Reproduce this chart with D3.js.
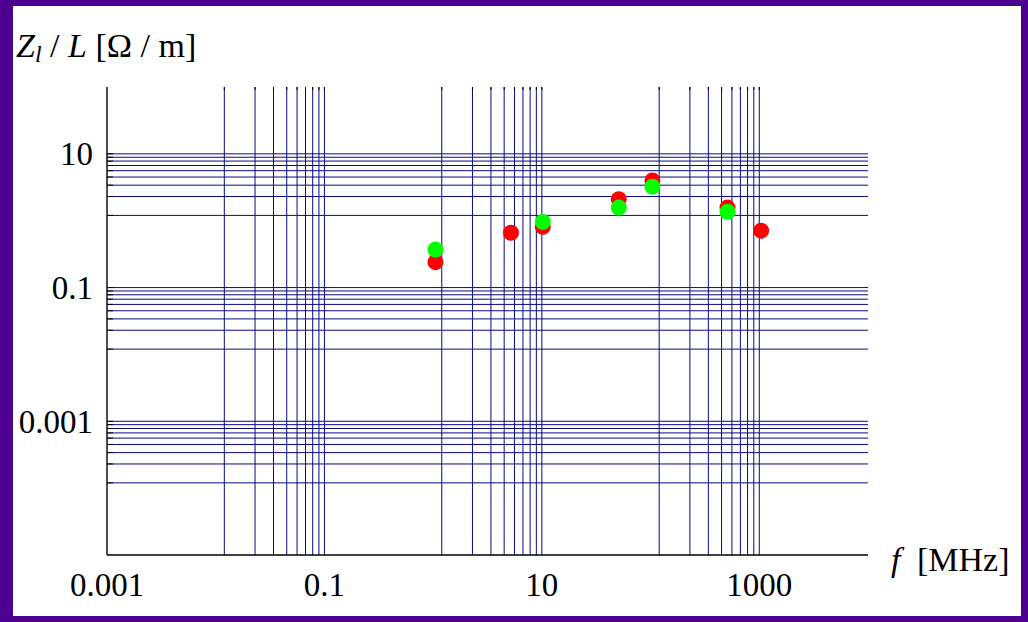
<!DOCTYPE html>
<html>
<head>
<meta charset="utf-8">
<script src="https://cdn.jsdelivr.net/npm/d3@7"></script>
<style>
  html, body { margin: 0; padding: 0; background: #4b0090; }
  svg { display: block; }
  text { font-family: "Liberation Serif", "DejaVu Serif", serif; fill: #000; }
</style>
</head>
<body>
<div id="chart"></div>
<script>
// frequencies in MHz and impedance per length in Ohm/m
const freqRed = [1.05, 5.2, 10.2, 51, 104, 510, 1040];
const zRed = [0.24, 0.66, 0.81, 2.1, 4.0, 1.57, 0.71];
const freqGreen = [1.05, 10.2, 51, 104, 510];
const zGreen = [0.37, 0.96, 1.57, 3.23, 1.36];

const xTicks = [0.001, 0.1, 10, 1000];
const yTicks = [10, 0.1, 0.001];
const xTickLabels = ["0.001", "0.1", "10", "1000"];
const yTickLabels = ["10", "0.1", "0.001"];

// grid lines sit at these fractions below each labelled value
const gridSteps = [0.12, 0.23, 0.34, 0.45, 0.56, 0.67, 0.78, 0.89, 1];
const xGridBases = [0.1, 10, 1000];
const yGridBases = [10, 0.1, 0.001];

const W = 1028, H = 622;
const plotL = 107, plotR = 868, plotT = 87, plotB = 555;

const x = d3.scaleLog().domain([0.001, 10000]).range([plotL, plotR]);
const y = d3.scaleLog().domain([1e-5, 100]).range([plotB, plotT]);

const xGrid = xGridBases.flatMap(b => gridSteps.map(s => b * s));
const yGrid = yGridBases.flatMap(b => gridSteps.map(s => b * s));

const svg = d3.select("#chart")
  .append("svg")
  .attr("width", W)
  .attr("height", H);

svg.append("rect")
  .attr("x", 0).attr("y", 0)
  .attr("width", W).attr("height", H)
  .attr("fill", "#4b0090");

svg.append("rect")
  .attr("x", 13).attr("y", 6)
  .attr("width", 1008).attr("height", 610)
  .attr("fill", "#fff");

// grid
svg.append("g")
  .selectAll("line")
  .data(xGrid)
  .join("line")
  .attr("x1", d => x(d)).attr("x2", d => x(d))
  .attr("y1", plotT).attr("y2", plotB)
  .attr("stroke", "#0a0a85")
  .attr("stroke-width", 1);

svg.append("g")
  .selectAll("line")
  .data(yGrid)
  .join("line")
  .attr("x1", plotL).attr("x2", plotR)
  .attr("y1", d => y(d)).attr("y2", d => y(d))
  .attr("stroke", "#0a0a85")
  .attr("stroke-width", 1);

// small black ticks on left axis and at top of vertical grid
svg.append("g")
  .selectAll("line")
  .data(yGrid)
  .join("line")
  .attr("x1", plotL).attr("x2", plotL + 6)
  .attr("y1", d => y(d)).attr("y2", d => y(d))
  .attr("stroke", "#000")
  .attr("stroke-width", 1);

svg.append("g")
  .selectAll("line")
  .data(xGrid)
  .join("line")
  .attr("x1", d => x(d)).attr("x2", d => x(d))
  .attr("y1", plotT).attr("y2", plotT + 3)
  .attr("stroke", "#000")
  .attr("stroke-width", 1);

// axes lines
svg.append("line")
  .attr("x1", plotL).attr("x2", plotL)
  .attr("y1", plotT).attr("y2", plotB)
  .attr("stroke", "#000").attr("stroke-width", 1.4);
svg.append("line")
  .attr("x1", plotL).attr("x2", plotR)
  .attr("y1", plotB).attr("y2", plotB)
  .attr("stroke", "#000").attr("stroke-width", 1.4);

// tick labels
svg.append("g")
  .selectAll("text")
  .data(xTicks)
  .join("text")
  .attr("x", d => x(d))
  .attr("y", 596)
  .attr("text-anchor", "middle")
  .attr("font-size", 33)
  .text((d, i) => xTickLabels[i]);

svg.append("g")
  .selectAll("text")
  .data(yTicks)
  .join("text")
  .attr("x", 93)
  .attr("y", d => y(d))
  .attr("dy", "0.35em")
  .attr("text-anchor", "end")
  .attr("font-size", 33)
  .text((d, i) => yTickLabels[i]);

// axis titles
const yTitle = svg.append("text")
  .attr("x", 16).attr("y", 57)
  .attr("font-size", 34);
yTitle.append("tspan").attr("font-style", "italic").text("Z");
yTitle.append("tspan").attr("font-style", "italic").attr("font-size", 24).attr("dy", 5).text("l");
yTitle.append("tspan").attr("dy", -5).text(" / ");
yTitle.append("tspan").attr("font-style", "italic").text("L");
yTitle.append("tspan").text(" [Ω / m]");

const xTitle = svg.append("text")
  .attr("x", 891).attr("y", 571)
  .attr("font-size", 34);
xTitle.append("tspan").attr("font-style", "italic").text("f");
xTitle.append("tspan").attr("dx", 8).text(" [MHz]");

// points
svg.append("g")
  .selectAll("circle")
  .data(freqRed.map((f, i) => [f, zRed[i]]))
  .join("circle")
  .attr("cx", d => x(d[0]))
  .attr("cy", d => y(d[1]))
  .attr("r", 8)
  .attr("fill", "#ff0000");

svg.append("g")
  .selectAll("circle")
  .data(freqGreen.map((f, i) => [f, zGreen[i]]))
  .join("circle")
  .attr("cx", d => x(d[0]))
  .attr("cy", d => y(d[1]))
  .attr("r", 8)
  .attr("fill", "#00ff00");
</script>
</body>
</html>
